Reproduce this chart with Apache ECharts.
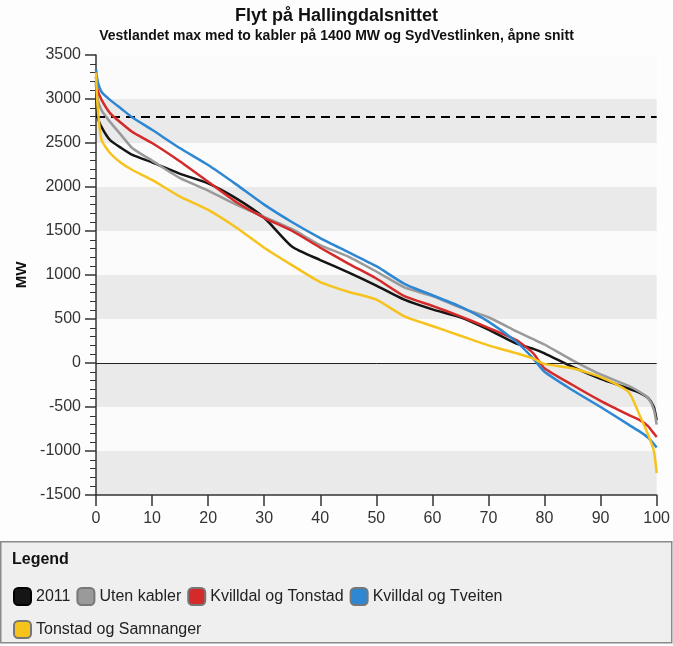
<!DOCTYPE html>
<html><head><meta charset="utf-8">
<script src="https://cdn.jsdelivr.net/npm/echarts@6/dist/echarts.min.js"></script>
<style>html,body{margin:0;padding:0;background:#fdfdfd}#c{width:673px;height:646px}</style>
</head><body><div id="c"></div>
<script>
const title = 'Flyt på Hallingdalsnittet';
const subtitle = 'Vestlandet max med to kabler på 1400 MW og SydVestlinken, åpne snitt';
const xs = [0, 0.3, 1, 2.5, 4.5, 6.5, 10, 15, 20, 25, 30, 35, 40, 45, 50, 55, 60, 65, 70, 75, 78, 80, 85, 90, 95, 97, 98.5, 99.5, 100];
const s2011 = [3200, 2800, 2680, 2534, 2443, 2364, 2280, 2150, 2040, 1870, 1650, 1320, 1170, 1030, 880, 720, 610, 520, 380, 220, 160, 110, -45, -180, -290, -340, -400, -500, -650];
const sUten = [3250, 3000, 2870, 2740, 2590, 2440, 2300, 2100, 1960, 1800, 1660, 1520, 1340, 1210, 1040, 860, 760, 630, 520, 360, 270, 210, 30, -130, -260, -330, -400, -530, -700];
const sKT = [3250, 3100, 2990, 2840, 2727, 2625, 2500, 2290, 2060, 1830, 1650, 1500, 1310, 1130, 960, 760, 650, 530, 400, 260, 110, -60, -250, -430, -590, -650, -720, -800, -840];
const sKTv = [3340, 3200, 3080, 2990, 2890, 2790, 2650, 2440, 2250, 2030, 1800, 1600, 1420, 1260, 1100, 900, 770, 640, 470, 240, 50, -100, -310, -500, -700, -780, -850, -920, -960];
const sTS = [3300, 2900, 2534, 2386, 2273, 2193, 2080, 1890, 1740, 1540, 1310, 1110, 920, 810, 720, 530, 420, 310, 200, 110, 50, -10, -60, -160, -330, -600, -820, -1000, -1250];
const names = ['2011', 'Uten kabler', 'Kvilldal og Tonstad', 'Kvilldal og Tveiten', 'Tonstad og Samnanger'];
const colors = ['#151515', '#9a9a9a', '#d42a2a', '#2d87d2', '#f6c21c'];
const seriesVals = [s2011, sUten, sKT, sKTv, sTS];
const refLine = 2800;

const chart = echarts.init(document.getElementById('c'));
const series = names.map((n, i) => ({
  name: n, type: 'line', showSymbol: false, smooth: 0.2,
  data: xs.map((x, k) => [x, seriesVals[i][k]]),
  lineStyle: { color: colors[i], width: 2.5 },
  itemStyle: { color: colors[i], borderColor: i === 0 ? '#000' : '#777', borderWidth: 1 },
  z: 3 + i
}));
series[0].markLine = {
  silent: true, symbol: 'none', label: { show: false },
  data: [
    { yAxis: 0, lineStyle: { color: '#222', width: 1, type: 'solid' } },
    { yAxis: refLine, lineStyle: { color: '#000', width: 2, type: [9, 6] } }
  ]
};
const legendText = { fontSize: 16, color: '#222', fontFamily: 'Liberation Sans' };
chart.setOption({
  backgroundColor: '#fdfdfd',
  animation: false,
  title: [
    { text: title, left: 'center', top: 2, textStyle: { fontFamily: 'Liberation Sans', fontSize: 18, fontWeight: 'bold', color: '#111' } },
    { text: subtitle, left: 'center', top: 24, textStyle: { fontFamily: 'Liberation Sans', fontSize: 14, fontWeight: 'bold', color: '#111' } }
  ],
  grid: { left: 96, right: 15, top: 55, bottom: 151 },
  xAxis: {
    type: 'value', min: 0, max: 100, interval: 10,
    axisLine: { onZero: false, lineStyle: { color: '#333', width: 1.5 } },
    axisTick: { show: true, length: 11, lineStyle: { color: '#333', width: 1.5 } },
    axisLabel: { color: '#333', fontSize: 16, fontFamily: 'Liberation Sans', margin: 16 },
    splitLine: { show: false }
  },
  yAxis: {
    type: 'value', min: -1500, max: 3500, interval: 500,
    name: 'MW', nameLocation: 'middle', nameGap: 64, nameRotate: 90,
    nameTextStyle: { fontSize: 15, fontWeight: 'bold', color: '#111', fontFamily: 'Liberation Sans' },
    axisLine: { show: true, lineStyle: { color: '#333', width: 1.5 } },
    axisTick: { show: true, length: 11, lineStyle: { color: '#333', width: 1.5 } },
    minorTick: { show: true, splitNumber: 5, length: 6, lineStyle: { color: '#333', width: 1 } },
    axisLabel: { color: '#333', fontSize: 16, fontFamily: 'Liberation Sans', margin: 15, formatter: v => String(v) },
    splitLine: { show: false },
    splitArea: { show: true, areaStyle: { color: ['#eaeaea', '#fbfbfb'] } }
  },
  legend: [
    { left: 8, top: 582, itemWidth: 17, itemHeight: 17, itemGap: 6, icon: 'roundRect',
      textStyle: legendText, data: names.slice(0, 4) },
    { left: 8, top: 615, itemWidth: 17, itemHeight: 17, itemGap: 6, icon: 'roundRect',
      textStyle: legendText, data: names.slice(4) }
  ],
  graphic: [
    { type: 'rect', left: 0, top: 541, shape: { width: 671, height: 101 }, style: { fill: '#efefef', stroke: '#8a8a8a', lineWidth: 1.5 }, z: -1 },
    { type: 'text', left: 12, top: 552, style: { text: 'Legend', fontSize: 16, fontWeight: 'bold', fill: '#111', fontFamily: 'Liberation Sans' } }
  ],
  series: series
});
</script></body></html>
